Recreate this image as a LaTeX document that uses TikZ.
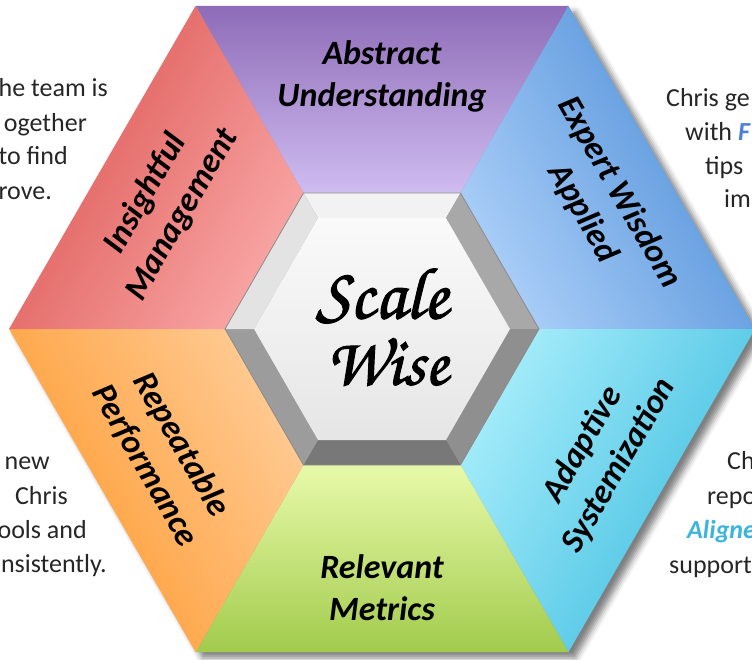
\documentclass[tikz,border=0pt]{standalone}
\usepackage{fontspec}
\usepackage{graphicx}
\usetikzlibrary{shadows.blur}
\newfontfamily\labfont{Carlito}
\newfontfamily\chorusfont{texgyrechorus-mediumitalic.otf}[FakeBold=1.5]
\definecolor{purO}{HTML}{8E6CB8}\definecolor{purI}{HTML}{CFBCF0}
\definecolor{redO}{HTML}{DC5450}\definecolor{redI}{HTML}{F8A6A5}
\definecolor{bluO}{HTML}{4A8CD6}\definecolor{bluI}{HTML}{AACEF8}
\definecolor{cyaO}{HTML}{3CBCDF}\definecolor{cyaI}{HTML}{A4ECFA}
\definecolor{grnO}{HTML}{A2CB4C}\definecolor{grnI}{HTML}{E8FAAA}
\definecolor{orgO}{HTML}{FF982C}\definecolor{orgI}{HTML}{FFCA92}
\definecolor{bluF}{HTML}{4D7FD6}
\definecolor{cyaF}{HTML}{3BB3DD}
\tikzset{
  lab/.style={font=\labfont\bfseries\itshape\fontsize{34}{42}\selectfont, align=center, text=black},
  side/.style={font=\labfont\fontsize{26}{34}\selectfont, text=black!85, inner sep=0pt},
}
\begin{document}
\begin{tikzpicture}[x=1pt,y=-1pt]
\useasboundingbox (0,0) rectangle (752,660);
\clip (0,0) rectangle (752,660);
% outer hexagon
\coordinate (V0) at (755,329);
\coordinate (V1) at (568.5,6);
\coordinate (V2) at (195.5,6);
\coordinate (V3) at (9,329);
\coordinate (V4) at (195.5,652);
\coordinate (V5) at (568.5,652);
% inner hexagon (bevel outer edge)
\coordinate (I0) at (539,329);
\coordinate (I1) at (460.5,193);
\coordinate (I2) at (303.5,193);
\coordinate (I3) at (225,329);
\coordinate (I4) at (303.5,465);
\coordinate (I5) at (460.5,465);
% inner face
\coordinate (F0) at (510,329);
\coordinate (F1) at (446,218);
\coordinate (F2) at (318,218);
\coordinate (F3) at (254,329);
\coordinate (F4) at (318,440);
\coordinate (F5) at (446,440);
% shadow
\path[blur shadow={shadow xshift=7pt,shadow yshift=-6pt,shadow blur radius=6pt,shadow opacity=50}]
  (V0)--(V1)--(V2)--(V3)--(V4)--(V5)--cycle;
% segments
\shade[top color=purO, bottom color=purI] (V2)--(V1)--(I1)--(I2)--cycle;
\shade[top color=bluO, bottom color=bluI, shading angle=-60] (V1)--(V0)--(I0)--(I1)--cycle;
\shade[top color=cyaO, bottom color=cyaI, shading angle=-120] (V0)--(V5)--(I5)--(I0)--cycle;
\shade[top color=grnI, bottom color=grnO] (V5)--(V4)--(I4)--(I5)--cycle;
\shade[top color=orgO, bottom color=orgI, shading angle=120] (V4)--(V3)--(I3)--(I4)--cycle;
\shade[top color=redO, bottom color=redI, shading angle=60] (V3)--(V2)--(I2)--(I3)--cycle;
% bevel
\fill[fill=black!5] (I2)--(I1)--(F1)--(F2)--cycle;
\fill[fill=black!34] (I1)--(I0)--(F0)--(F1)--cycle;
\fill[fill=black!44] (I0)--(I5)--(F5)--(F0)--cycle;
\fill[fill=black!53] (I5)--(I4)--(F4)--(F5)--cycle;
\fill[fill=black!39] (I4)--(I3)--(F3)--(F4)--cycle;
\fill[fill=black!11] (I3)--(I2)--(F2)--(F3)--cycle;
\draw[black!45, line width=0.8pt] (I0)--(I1)--(I2)--(I3)--(I4)--(I5)--cycle;
\shade[top color=black!2, bottom color=black!10] (F0)--(F1)--(F2)--(F3)--(F4)--(F5)--cycle;
% centre text
\node (sc) at (382,296) {\resizebox{132pt}{!}{\chorusfont Scale}};
\node (wi) at (387,362) {\resizebox{122pt}{!}{\chorusfont Wise}};
% segment labels
\node[lab] (abs) at (382,76) {Abstract\\Understanding};
\node[lab, rotate=60] (ins) at (164,204) {Insightful\\Management};
\node[lab, rotate=-60] (exp) at (601,203) {Expert Wisdom\\Applied};
\node[lab, rotate=-60] (rep) at (163,455) {Repeatable\\Performance};
\node[lab, rotate=60] (ada) at (601,455) {Adaptive\\Systemization};
\node[lab] (rel) at (382,588) {Relevant\\Metrics};
% side texts (cut by the picture edge)
\node[side, anchor=base east] (a1) at (108,97) {he team is};
\node[side, anchor=base east] (a2) at (87,132) {ogether};
\node[side, anchor=base east] (a3) at (68,165) {to find};
\node[side, anchor=base east] (a4) at (52,200) {rove.};
\node[side, anchor=base west] (b1) at (666,107) {Chris ge};
\node[side, anchor=base west] (b2) at (685,141) {with {\bfseries\itshape\color{bluF}F}};
\node[side, anchor=base west] (b3) at (705,175) {tips};
\node[side, anchor=base west] (b4) at (724,208) {im};
\node[side, anchor=base east] (c1) at (50,469) {new};
\node[side, anchor=base east] (c2) at (68,504) {Chris};
\node[side, anchor=base east] (c3) at (87,538) {ools and};
\node[side, anchor=base east] (c4) at (107,572) {nsistently.};
\node[side, anchor=base west] (d1) at (727,469) {Ch};
\node[side, anchor=base west] (d2) at (707,504) {repo};
\node[side, anchor=base west] (d3) at (687,538) {{\bfseries\itshape\color{cyaF}Aligne}};
\node[side, anchor=base west] (d4) at (669,573) {support};
\end{tikzpicture}
\end{document}
